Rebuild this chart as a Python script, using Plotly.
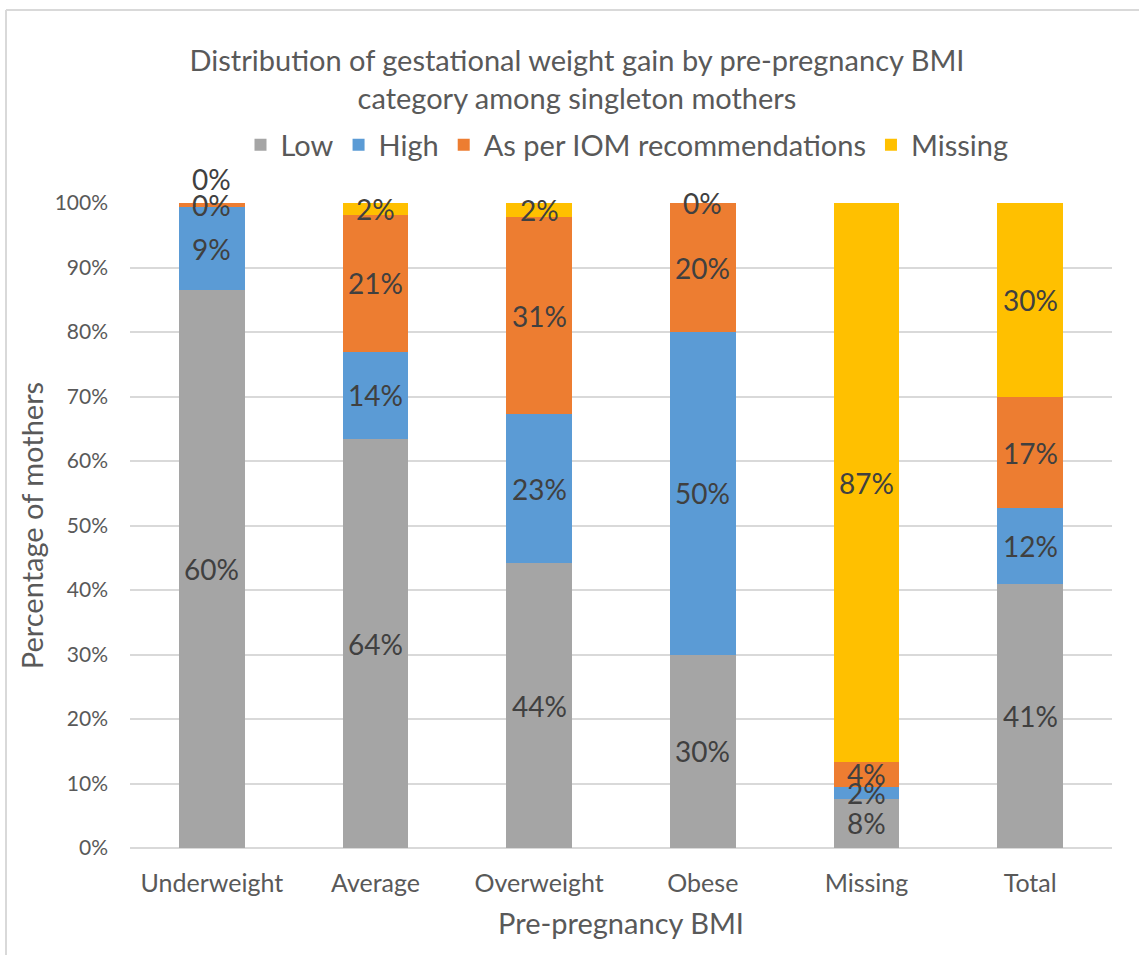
import plotly.graph_objects as go

categories = ["Underweight", "Average", "Overweight", "Obese", "Missing", "Total"]
series_names = ["Low", "High", "As per IOM recommendations", "Missing"]
low = [60, 63.5, 44.2, 30, 7.6, 40.9]
high = [9, 13.6, 23.1, 50, 1.9, 11.8]
iom = [0.4, 21.2, 30.6, 20, 3.8, 17.2]
missing = [0, 1.9, 2.2, 0, 86.7, 30.1]
colors = ["#A5A5A5", "#5B9BD5", "#ED7D31", "#FFC000"]
y_ticks = [0, 10, 20, 30, 40, 50, 60, 70, 80, 90, 100]

series = [low, high, iom, missing]
FONT = "Lato"
W, H = 1139, 955
L, R, T, B = 130, 27, 203, 107
PW, PH = W - L - R, H - T - B

fig = go.Figure()
for name, vals, col in zip(series_names, series, colors):
    fig.add_trace(go.Bar(x=categories, y=vals, name=name, marker=dict(color=col, line=dict(width=0)),
                         hoverinfo="skip"))

# data labels at the middle of each normalised segment
annotations = []
for i, cat in enumerate(categories):
    tot = sum(s[i] for s in series)
    cum = 0
    prev = None
    for s in series:
        v = s[i] / tot * 100
        mid = cum + v / 2
        if prev is not None and v == 0 and abs(mid - prev) < 3:
            mid = prev + 4.0
        annotations.append(dict(x=cat, y=mid / 100, xref="x", yref="y domain", text=f"{round(s[i]):d}%",
                                showarrow=False, xanchor="center", yanchor="middle",
                                font=dict(family=FONT, size=28, color="#404040")))
        cum += v
        prev = mid

fig.update_layout(
    barmode="stack", barnorm="percent", bargap=0.6,
    width=W, height=H,
    margin=dict(l=L, r=R, t=T, b=B),
    paper_bgcolor="white", plot_bgcolor="white",
    font=dict(family=FONT, color="#595959"),
    title=dict(text="Distribution of gestational weight gain by pre-pregnancy BMI<br>category among singleton mothers",
               x=577 / W, xanchor="center", xref="container", y=1 - 71 / H, yanchor="top",
               font=dict(family=FONT, size=29, color="#595959")),
    legend=dict(orientation="h", x=(627 - L) / PW, xanchor="center", y=(H - B - 145) / PH, yanchor="middle",
                font=dict(family=FONT, size=29, color="#595959"), itemwidth=30,
                traceorder="normal"),
    xaxis=dict(title=dict(text="Pre-pregnancy BMI", font=dict(family=FONT, size=29, color="#595959"), standoff=17),
               tickfont=dict(family=FONT, size=25, color="#595959"), showline=False, ticks="",
               ticklabelstandoff=18),
    yaxis=dict(title=dict(text="Percentage of mothers", font=dict(family=FONT, size=29, color="#595959"), standoff=2),
               range=[0, 100], tickvals=y_ticks, ticktext=[f"{t}%" for t in y_ticks],
               tickfont=dict(family=FONT, size=21, color="#595959"), gridcolor="#D9D9D9", gridwidth=1.5,
               zeroline=True, zerolinecolor="#D9D9D9", zerolinewidth=1.5, showline=False,
               ticklabelstandoff=21),
    annotations=annotations,
    shapes=[
        dict(type="line", xref="paper", yref="paper", x0=(6 - L) / PW, x1=(6 - L) / PW,
             y0=(H - B - H) / PH, y1=(H - B - 10) / PH, line=dict(color="#D9D9D9", width=2)),
        dict(type="line", xref="paper", yref="paper", x0=(6 - L) / PW, x1=(W - L) / PW,
             y0=(H - B - 10) / PH, y1=(H - B - 10) / PH, line=dict(color="#D9D9D9", width=2)),
    ],
)

fig.write_html("out.html", post_script="document.body.style.margin='0';",
               config={"displayModeBar": False})
